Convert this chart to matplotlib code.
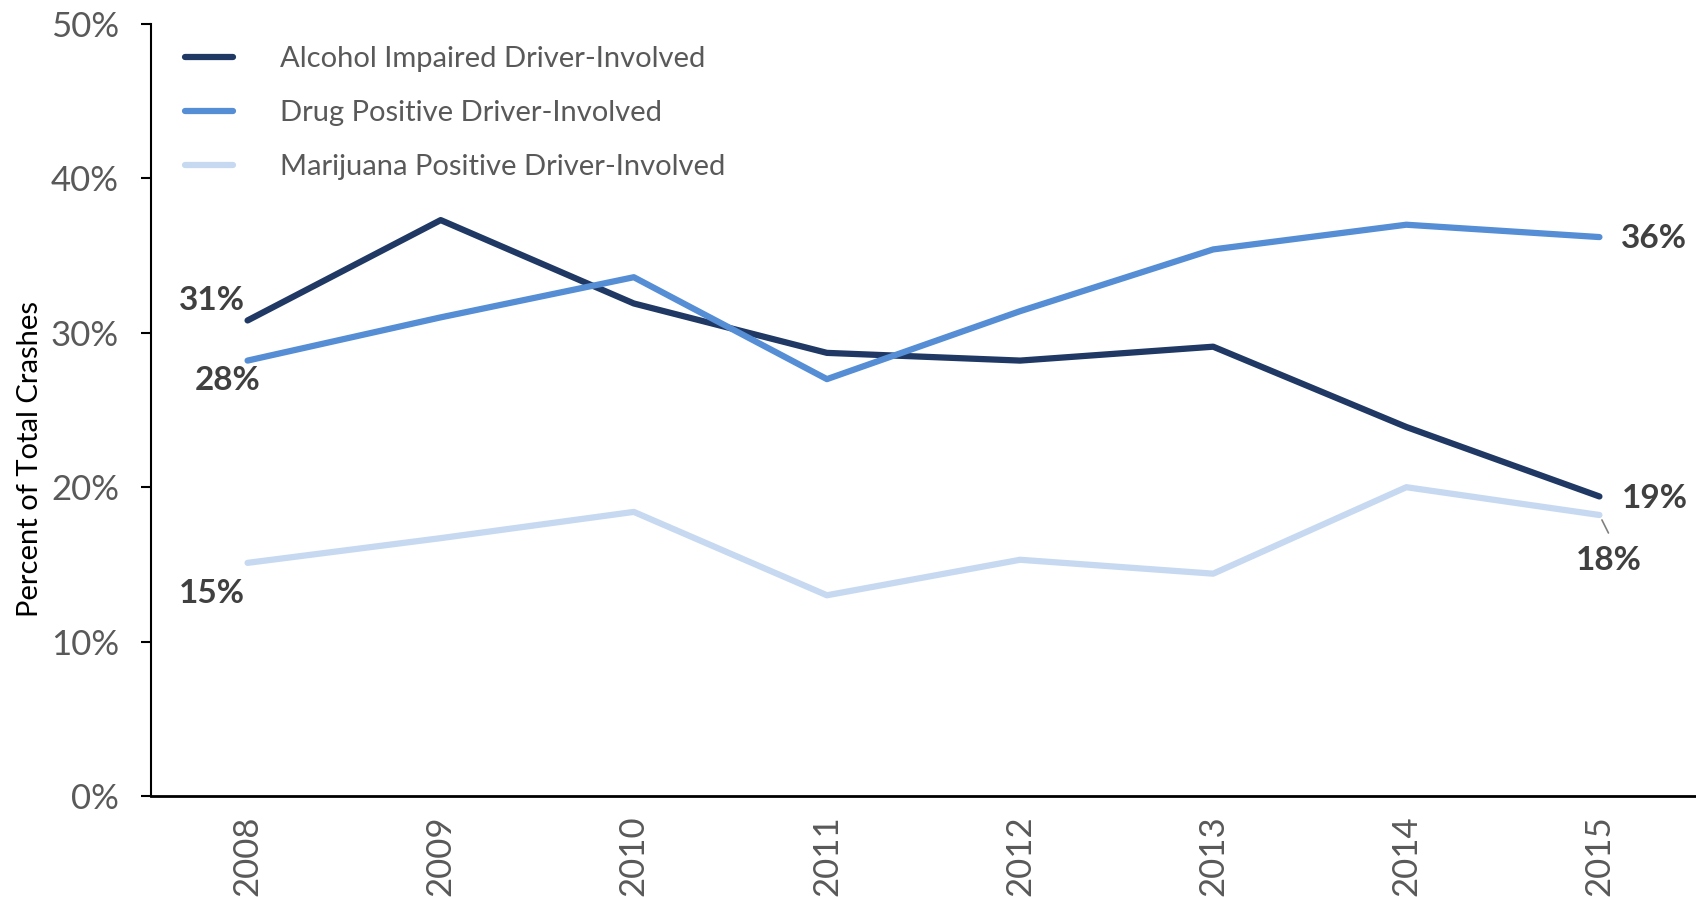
import matplotlib.pyplot as plt
from matplotlib.ticker import FuncFormatter

years = ['2008', '2009', '2010', '2011', '2012', '2013', '2014', '2015']
alcohol = [30.8, 37.3, 31.9, 28.7, 28.2, 29.1, 23.9, 19.4]
drug = [28.2, 31.0, 33.6, 27.0, 31.4, 35.4, 37.0, 36.2]
marijuana = [15.1, 16.7, 18.4, 13.0, 15.3, 14.4, 20.0, 18.2]
labels = ['Alcohol Impaired Driver-Involved', 'Drug Positive Driver-Involved',
          'Marijuana Positive Driver-Involved']

plt.rcParams['font.family'] = ['Lato', 'DejaVu Sans']

fig = plt.figure(figsize=(16.96, 8.97), dpi=100)
ax = fig.add_axes([151 / 1696, 1 - 796 / 897, 1 - 151 / 1696, (796 - 24) / 897])

x = range(len(years))
ax.plot(x, alcohol, color='#1f3864', lw=4.5, label=labels[0], solid_capstyle='round')
ax.plot(x, drug, color='#558ed5', lw=4.5, label=labels[1], solid_capstyle='round')
ax.plot(x, marijuana, color='#c6d9f1', lw=4.5, label=labels[2], solid_capstyle='round')

ax.set_xlim(-0.5, 7.5)
ax.set_ylim(0, 50)
ax.set_xticks(list(x))
ax.set_xticklabels(years, rotation=90, fontsize=25, color='#595959')
ax.set_yticks([0, 10, 20, 30, 40, 50])
ax.yaxis.set_major_formatter(FuncFormatter(lambda v, p: '{:.0f}%'.format(v)))
ax.tick_params(axis='y', labelsize=25, labelcolor='#595959', length=7, width=1.5, pad=16)
ax.tick_params(axis='x', length=0, pad=14)
ax.spines['top'].set_visible(False)
ax.spines['right'].set_visible(False)
ax.spines['left'].set_linewidth(1.5)
ax.spines['bottom'].set_linewidth(2)
ax.set_ylabel('Percent of Total Crashes', fontsize=21, color='black', labelpad=6)
ax.yaxis.set_label_coords(-0.070, 0.437)

lab = dict(fontsize=24, fontweight='bold', color='#404040', ha='center', va='center',
           textcoords='offset pixels')
ax.annotate('31%', (0, alcohol[0]), xytext=(-36, 20), **lab)
ax.annotate('28%', (0, drug[0]), xytext=(-20, -20), **lab)
ax.annotate('15%', (0, marijuana[0]), xytext=(-36, -31), **lab)
ax.annotate('36%', (7, drug[7]), xytext=(55, -1), **lab)
ax.annotate('19%', (7, alcohol[7]), xytext=(55, -2), **lab)
ax.annotate('18%', (7, marijuana[7]), xytext=(9, -46), **lab)
ax.annotate('', (7, marijuana[7]), xytext=(9, -18), textcoords='offset pixels',
            arrowprops=dict(arrowstyle='-', color='#808080', lw=1.2, shrinkA=0, shrinkB=4))

leg = ax.legend(loc='upper left', bbox_to_anchor=(0.005, 1.005), frameon=False, fontsize=21,
                handlelength=1.65, handletextpad=1.6, labelspacing=0.95)
for t in leg.get_texts():
    t.set_color('#595959')

fig.savefig('out.png', dpi=100, facecolor='white')
